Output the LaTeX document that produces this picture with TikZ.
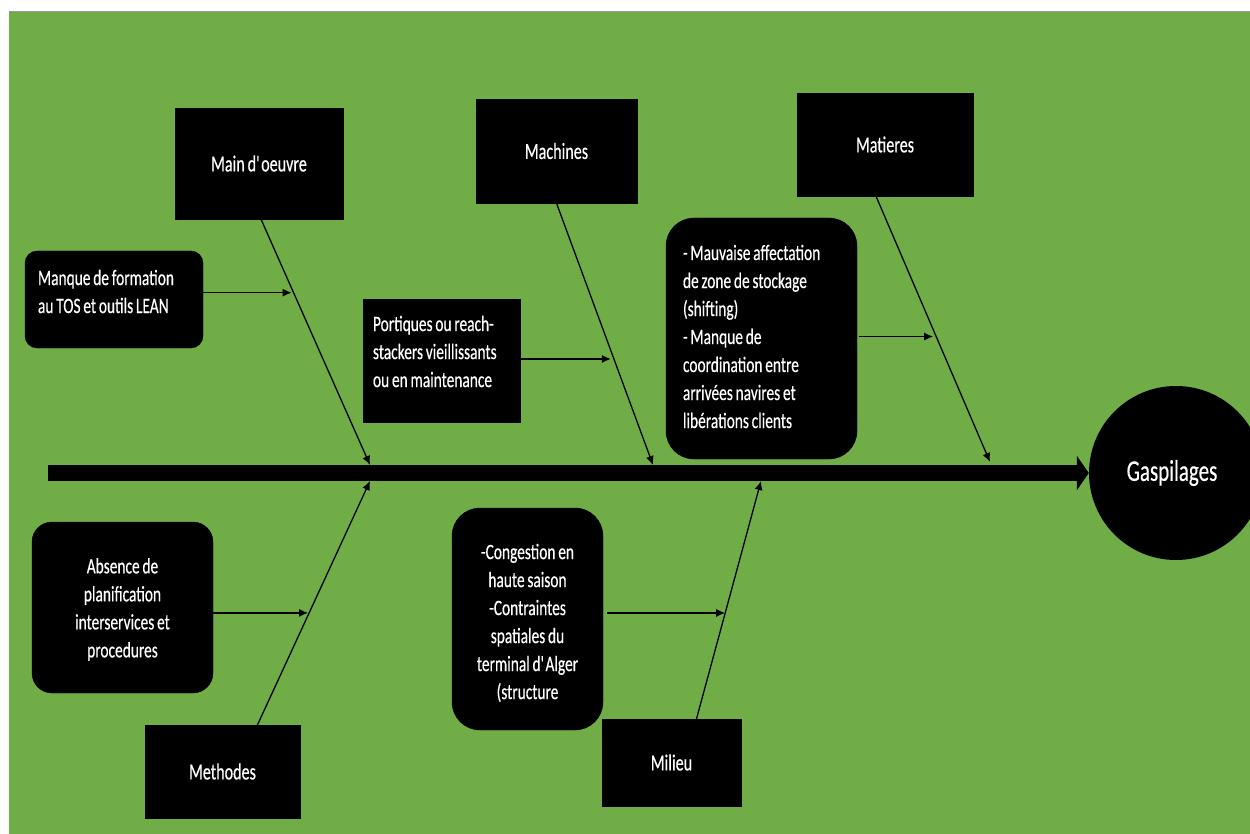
\documentclass[tikz,border=0pt]{standalone}
\usepackage{fontspec}
\setmainfont{Carlito}[FakeStretch=0.7, WordSpace=0.8, FakeBold=0.4]
\usetikzlibrary{arrows.meta,calc}
\definecolor{bggreen}{HTML}{70AD47}
\tikzset{
  category/.style={rectangle, fill=black, draw=black, text=white,
    font=\fontsize{23}{28}\selectfont, inner sep=0pt},
  causebox/.style={rectangle, fill=black, draw=black, text=white,
    font=\fontsize{22}{28}\selectfont, inner ysep=0pt},
  bone/.style={line width=1.3pt, -{Latex[length=9pt,width=8pt]}},
  subarrow/.style={line width=1.3pt, -{Latex[length=9pt,width=8pt]}},
  spine/.style={line width=16pt, -{Triangle[length=12pt 0 0,width=34pt 0 0]}},
  effect/.style={circle, fill=black, text=white, minimum size=174pt,
    inner sep=0pt, font=\fontsize{30}{34}\selectfont}
}
\begin{document}
\begin{tikzpicture}[x=1pt, y=-1pt]
  \useasboundingbox (0,0) rectangle (1250,834);
  \clip (0,0) rectangle (1250,834);
  % page and green panel
  \fill[white] (0,0) rectangle (1250,834);
  \fill[bggreen] (9,12) rectangle (1250,834);
  \draw[gray!80, line width=1.5pt] (9,11.5) -- (1250,11.5);

  % effect
  \node[effect] (gasp) at (1176,473) {\hspace*{-8pt}Gaspilages};

  % main spine
  \coordinate (s0) at (48,473);
  \draw[spine] (s0) -- (gasp.west);

  % category boxes
  \node[category, minimum width=168pt, minimum height=111pt] (mo)   at (259,163.5) {Main d\textquotesingle oeuvre};
  \node[category, minimum width=161pt, minimum height=104pt] (mach) at (556.5,151) {Machines};
  \node[category, minimum width=176pt, minimum height=103pt] (mat)  at (885,144.5) {Matieres};
  \node[category, minimum width=155pt, minimum height=93pt]  (meth) at (222.5,771.5) {Methodes};
  \node[category, minimum width=139pt, minimum height=87pt]  (mil)  at (671.5,762.5) {Milieu};

  % cause boxes
  \node[causebox, rounded corners=12pt, minimum width=178pt, minimum height=97pt,
        inner xsep=13pt, text width=152pt, align=flush left] (c1) at (114,299.5)
        {Manque de formation\\au TOS et outils LEAN\par\vspace*{16pt}};
  \node[causebox, minimum width=157pt, minimum height=123pt,
        inner xsep=10pt, text width=137pt, align=flush left] (c2) at (441.5,360.5)
        {Portiques ou reach-\\stackers vieillissants\\ou en maintenance\par\vspace*{18pt}};
  \node[causebox, rounded corners=28pt, minimum width=191pt, minimum height=241pt,
        inner xsep=17pt, text width=157pt, align=flush left] (c3) at (761.5,338.5)
        {- Mauvaise affectation\\de zone de stockage\\(shifting)\\- Manque de\\coordination entre\\arrivées navires et\\libérations clients\par\vspace*{4pt}};
  \node[causebox, rounded corners=20pt, minimum width=181pt, minimum height=171pt,
        inner xsep=10pt, text width=161pt, align=flush center] (c4) at (122.5,607.5)
        {Absence de\\planification\\interservices et\\procedures\par\vspace*{-4pt}};
  \node[causebox, rounded corners=28pt, minimum width=151pt, minimum height=222pt,
        inner xsep=10pt, text width=131pt, align=flush center] (c5) at (527.5,619)
        {-Congestion en\\haute saison\\-Contraintes\\spatiales du\\terminal d\textquotesingle Alger\\(structure\par\vspace*{-8pt}};

  % joints on the spine
  \coordinate (j1) at (370,465);
  \coordinate (j2) at (653,465);
  \coordinate (j3) at (990,462);
  \coordinate (j4) at (370,481);
  \coordinate (j5) at (761,481);

  % bone starts
  \coordinate (b1) at ($(mo.south)+(2,0)$);
  \coordinate (b2) at (mach.south);
  \coordinate (b3) at ($(mat.south)+(-9,0)$);
  \coordinate (b4) at ($(meth.north)+(35,0)$);
  \coordinate (b5) at ($(mil.north)+(25,0)$);

  % bones
  \draw[bone] (b1) -- (j1);
  \draw[bone] (b2) -- (j2);
  \draw[bone] (b3) -- (j3);
  \draw[bone] (b4) -- (j4);
  \draw[bone] (b5) -- (j5);

  % points where the causes meet their bones
  \coordinate (p1) at ($(b1)!0.299!(j1)$);
  \coordinate (p2) at ($(b2)!0.595!(j2)$);
  \coordinate (p3) at ($(b3)!0.528!(j3)$);
  \coordinate (p4) at ($(b4)!0.459!(j4)$);
  \coordinate (p5) at ($(b5)!0.445!(j5)$);

  % cause arrows
  \draw[subarrow, shorten >=2pt] (c1.east |- p1) -- (p1);
  \draw[subarrow, shorten >=3pt] (c2.east |- p2) -- (p2);
  \draw[subarrow, shorten <=2pt, shorten >=3pt] (c3.east |- p3) -- (p3);
  \draw[subarrow, shorten >=1pt] (c4.east |- p4) -- (p4);
  \draw[subarrow, shorten <=4pt] (c5.east |- p5) -- (p5);
\end{tikzpicture}
\end{document}
